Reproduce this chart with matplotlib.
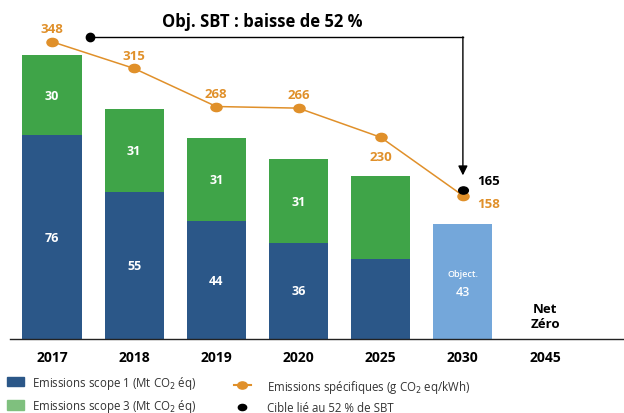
import matplotlib
matplotlib.use("Agg")
import matplotlib.pyplot as plt
import numpy as np
from matplotlib.path import Path
from matplotlib.patches import Patch
from matplotlib.lines import Line2D

plt.rcParams["font.family"] = ["Open Sans", "DejaVu Sans"]

years = ["2017", "2018", "2019", "2020", "2025", "2030", "2045"]
scope1 = [76, 55, 44, 36, 30, 0, 0]
scope3 = [30, 31, 31, 31, 31, 0, 0]
scope1_labels = ["76", "55", "44", "36", "", "", ""]
scope3_labels = ["30", "31", "31", "31", "", "", ""]
objective_2030 = 43
specific = [348, 315, 268, 266, 230, 158]
target_sbt = 165

BLUE = "#2b5788"
GREEN = "#3fa448"
GREEN_LEG = "#7fc07e"
LIGHT = "#74a7da"
ORANGE = "#e0902a"

fig = plt.figure(figsize=(6.24, 4.14), dpi=100)
ax = fig.add_axes([10 / 624, 74 / 414, 614 / 624, 310 / 414])
x = np.arange(len(years))
w = 0.72

ax.bar(x, scope1, w, color=BLUE)
ax.bar(x, scope3, w, bottom=scope1, color=GREEN)
ax.bar(x[5], objective_2030, w, color=LIGHT)

for i in range(len(years)):
    if scope1_labels[i]:
        ax.text(x[i], scope1[i] / 2, scope1_labels[i], ha="center", va="center",
                color="white", fontsize=9, fontweight="bold")
    if scope3_labels[i]:
        ax.text(x[i], scope1[i] + scope3[i] / 2, scope3_labels[i], ha="center",
                va="center", color="white", fontsize=9, fontweight="bold")
ax.text(x[5], objective_2030 * 0.57, "Object.", ha="center", va="center",
        color="white", fontsize=6.5, fontweight="semibold")
ax.text(x[5], objective_2030 * 0.41, str(objective_2030), ha="center", va="center",
        color="white", fontsize=9, fontweight="semibold")
ax.text(x[6], 3.5, "Net\nZéro", ha="center", va="bottom", fontsize=9.5,
        fontweight="bold", linespacing=1.2)

ax.set_xlim(-0.51, 6.96)
ax.set_ylim(0, 115.7)
ax.set_xticks(x)
ax.set_xticklabels(years, fontsize=10, fontweight="bold")
ax.tick_params(axis="x", length=0, pad=8)
ax.set_yticks([])
for s in ["left", "right", "top"]:
    ax.spines[s].set_visible(False)
ax.spines["bottom"].set_color("#222222")
ax.spines["bottom"].set_linewidth(1.0)

# secondary scale for specific emissions
ax2 = ax.twinx()
ax2.set_ylim(-19, 363.7)
ax2.set_yticks([])
for s in ax2.spines.values():
    s.set_visible(False)

circ = Path.unit_circle()
ellipse = Path(circ.vertices * np.array([1.35, 1.0]), circ.codes)

xl = x[:len(specific)]
ax2.plot(xl, specific, color=ORANGE, lw=1.1, marker=ellipse, ms=8,
         markerfacecolor=ORANGE, markeredgecolor=ORANGE, zorder=3)
offsets = [(0, 5), (0, 5), (0, 5), (0, 5), (0, -9), (10, -6)]
for xi, v, (dx, dy) in zip(xl, specific, offsets):
    if dx:
        ax2.annotate(str(v), (xi, v), xytext=(dx, dy), textcoords="offset points",
                     ha="left", va="center", color=ORANGE, fontsize=9.5,
                     fontweight="bold")
    else:
        ax2.annotate(str(v), (xi, v), xytext=(dx, dy), textcoords="offset points",
                     ha="center", va="bottom" if dy > 0 else "top", color=ORANGE,
                     fontsize=9.5, fontweight="bold")

ax2.plot([x[5]], [target_sbt], marker=ellipse, ms=7, color="black", ls="none",
         zorder=4)
ax2.annotate(str(target_sbt), (x[5], target_sbt), xytext=(10, 7),
             textcoords="offset points", ha="left", va="center", fontsize=9.5,
             fontweight="bold")

# bracket arrow
y_br = 354
ax2.plot([0.46], [y_br], marker="o", ms=6, color="black")
ax2.plot([0.46, x[5]], [y_br, y_br], color="black", lw=1.0)
ax2.annotate("", xy=(x[5], target_sbt + 18), xytext=(x[5], y_br),
             arrowprops=dict(arrowstyle="-|>", color="black", lw=1.0,
                             mutation_scale=14, shrinkA=0, shrinkB=0))

fig.text(262 / 624, 1 - 22 / 414, "Obj. SBT : baisse de 52 %", ha="center",
         va="center", fontsize=12, fontweight="bold")

common = dict(frameon=False, fontsize=8.3, handlelength=1.45, handleheight=0.9,
              labelspacing=0.55, handletextpad=0.7, borderaxespad=0,
              borderpad=0)
leg1 = fig.legend(
    [Patch(color=BLUE), Patch(color=GREEN_LEG)],
    ["Emissions scope 1 (Mt CO$_2$ éq)", "Emissions scope 3 (Mt CO$_2$ éq)"],
    loc="lower left", bbox_to_anchor=(7 / 624, -1 / 414), **common)
leg2 = fig.legend(
    [Line2D([], [], color=ORANGE, marker=ellipse, ms=7, lw=1.5),
     Line2D([], [], color="black", marker=ellipse, ms=6, ls="none")],
    ["Emissions spécifiques (g CO$_2$ eq/kWh)", "Cible lié au 52 % de SBT"],
    loc="lower left", bbox_to_anchor=(234 / 624, -1 / 414),
    **dict(common, handletextpad=1.4))
for leg in (leg1, leg2):
    for t in leg.get_texts():
        t.set_color("#333333")

fig.savefig("out.png", dpi=100)
